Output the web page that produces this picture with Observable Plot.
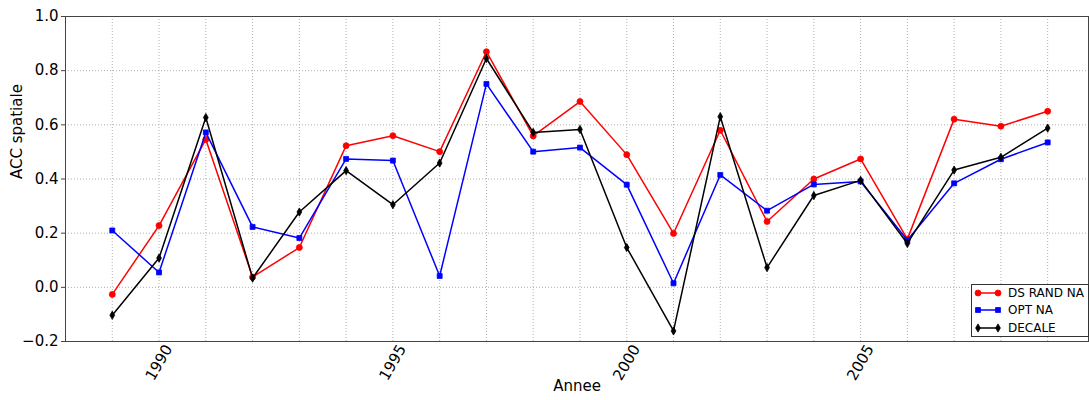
<!DOCTYPE html>
<html>
<head>
<meta charset="utf-8">
<script src="https://cdn.jsdelivr.net/npm/d3@7"></script>
<script src="https://cdn.jsdelivr.net/npm/@observablehq/plot@0.6"></script>
<style>
  html, body { margin: 0; padding: 0; background: #fff; }
  #wrap { position: relative; width: 1089px; height: 400px; font-family: "DejaVu Sans", sans-serif; }
  #legend { position: absolute; left: 971px; top: 284px; width: 116px; height: 51px; border: 1px solid #333; background: #fff; font-size: 12px; }
  #legend .row { position: absolute; left: 0; height: 16px; display: flex; align-items: center; white-space: nowrap; }
  #legend svg { display: block; flex: none; }
  #legend span { margin-left: 6px; color: #000; white-space: nowrap; }
</style>
</head>
<body>
<div id="wrap"></div>
<script>
const years = [1989,1990,1991,1992,1993,1994,1995,1996,1997,1998,1999,2000,2001,2002,2003,2004,2005,2006,2007,2008,2009];
const dsRandNA = [-0.026,0.228,0.546,0.038,0.147,0.523,0.560,0.501,0.870,0.559,0.686,0.490,0.199,0.580,0.243,0.400,0.474,0.178,0.621,0.595,0.650];
const optNA    = [0.210,0.055,0.572,0.223,0.182,0.474,0.468,0.042,0.751,0.501,0.516,0.379,0.015,0.415,0.283,0.380,0.391,0.174,0.384,0.473,0.535];
const decale   = [-0.103,0.108,0.627,0.034,0.278,0.431,0.305,0.459,0.845,0.572,0.583,0.147,-0.161,0.630,0.073,0.339,0.395,0.162,0.433,0.480,0.588];
const seriesNames = ["DS RAND NA","OPT NA","DECALE"];
const seriesColors = ["#ff0000","#0000ff","#000000"];
const seriesSymbols = ["circle","square","diamond"];
const seriesR = [3,2.8,2.5];
const yTicks = [-0.2,0,0.2,0.4,0.6,0.8,1.0];
const xLabelYears = [1990,1995,2000,2005];

const allSeries = [dsRandNA, optNA, decale];
const fmt = d => (d < 0 ? "\u2212" : "") + Math.abs(d).toFixed(1);

const marks = [
  Plot.ruleX(years, {x: d => d, stroke: "#b0b0b0", strokeDasharray: "1,2", strokeWidth: 1}),
  Plot.ruleY(yTicks.slice(1, -1), {y: d => d, stroke: "#b0b0b0", strokeDasharray: "1,2", strokeWidth: 1}),
];
allSeries.forEach((vals, i) => {
  const data = years.map((yr, j) => ({year: yr, v: vals[j]}));
  marks.push(Plot.line(data, {x: "year", y: "v", stroke: seriesColors[i], strokeWidth: 1.5}));
  marks.push(Plot.dot(data, {x: "year", y: "v", fill: seriesColors[i], stroke: seriesColors[i], strokeWidth: 0.8, symbol: seriesSymbols[i], r: seriesR[i]}));
});
marks.push(
  Plot.frame({stroke: "#444", strokeWidth: 1}),
  Plot.axisY({ticks: yTicks, tickFormat: fmt, tickSize: 4, tickPadding: 3, fontSize: 15, label: null, stroke: "#444"}),
  Plot.axisX({ticks: [], label: null}),
  Plot.text(xLabelYears, {x: d => d, y: () => -0.2, text: d => String(d), rotate: -60, dy: 21, fontSize: 15, textAnchor: "middle", fill: "#000"}),
  Plot.text(["Annee"], {frameAnchor: "bottom", dy: 49, text: d => d, fontSize: 15, fill: "#000"}),
  Plot.text(["ACC spatiale"], {frameAnchor: "left", dx: -48, rotate: -90, text: d => d, fontSize: 15, fill: "#000"})
);

const chart = Plot.plot({
  width: 1089,
  height: 400,
  marginLeft: 65,
  marginRight: 1,
  marginTop: 16,
  marginBottom: 59,
  style: {fontFamily: "DejaVu Sans, sans-serif", background: "#fff", color: "#000"},
  x: {domain: [1988, 2009.873], axis: null},
  y: {domain: [-0.2, 1.0], axis: null},
  marks
});
const wrap = document.getElementById("wrap");
wrap.appendChild(chart);

// legend
const legend = document.createElement("div");
legend.id = "legend";
const rowTops = [0, 17, 35];
seriesNames.forEach((name, i) => {
  const row = document.createElement("div");
  row.className = "row";
  row.style.top = rowTops[i] + "px";
  const svg = d3.create("svg").attr("width", 30).attr("height", 16);
  svg.append("line").attr("x1", 6).attr("x2", 26).attr("y1", 8).attr("y2", 8).attr("stroke", seriesColors[i]).attr("stroke-width", 1.5);
  const sym = {circle: d3.symbolCircle, square: d3.symbolSquare, diamond: d3.symbolDiamond}[seriesSymbols[i]];
  const size = Math.PI * seriesR[i] * seriesR[i];
  [6, 26].forEach(cx => {
    svg.append("path").attr("d", d3.symbol(sym, size)()).attr("transform", `translate(${cx},8)`).attr("fill", seriesColors[i]).attr("stroke", seriesColors[i]).attr("stroke-width", 0.8);
  });
  row.appendChild(svg.node());
  const span = document.createElement("span");
  span.textContent = name;
  row.appendChild(span);
  legend.appendChild(row);
});
wrap.appendChild(legend);
</script>
</body>
</html>
